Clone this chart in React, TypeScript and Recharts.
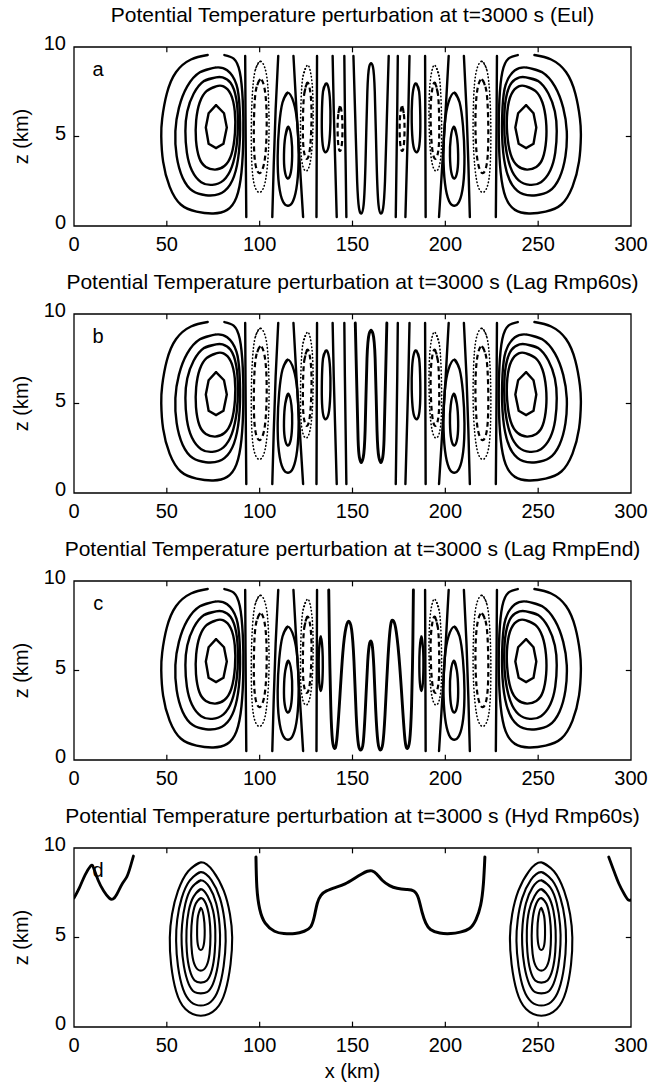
import React from 'react';
import { ComposedChart, Line, XAxis, YAxis, ReferenceArea, ReferenceLine, ReferenceDot } from 'recharts';

type Pt = [number, number];
type Style = 'solid' | 'dash' | 'dot';
interface Contour { pts: Pt[]; s?: Style; lin?: boolean; w?: number }

const FONT = '"Liberation Sans", Arial, Helvetica, sans-serif';

const xTicks = [0, 50, 100, 150, 200, 250, 300];
const zTicks = [0, 5, 10];
const titles = [
  'Potential Temperature perturbation at t=3000 s (Eul)',
  'Potential Temperature perturbation at t=3000 s (Lag Rmp60s)',
  'Potential Temperature perturbation at t=3000 s (Lag RmpEnd)',
  'Potential Temperature perturbation at t=3000 s (Hyd Rmp60s)',
];
const letters = ['a', 'b', 'c', 'd'];
const panelTops = [47, 314, 581, 848];
const BOX_H = 179;
const TOP_PAD = 22;

// left warm bubble (panels a-c) in (x km, z km)
const vortexOuter: Pt[] = [[72, 9.55], [63, 9.3], [55, 8.6], [50, 7.4], [47.5, 6.0], [47, 5.0], [48, 3.6], [51.5, 2.2], [57.5, 1.2], [66, 0.8], [75, 0.7], [82.5, 0.9], [87.5, 1.6], [90.2, 3.0], [91.2, 5.0], [90.9, 7.0], [89.3, 8.6], [86, 9.35], [81, 9.55]];
const vortexRing1: Pt[] = [[76, 8.85], [68, 8.6], [61, 7.8], [56.5, 6.6], [54.6, 5.3], [55.3, 3.9], [58.5, 2.7], [64, 1.95], [71, 1.72], [78, 1.78], [84, 2.3], [87.8, 3.4], [89.4, 5.0], [89.2, 6.6], [87.5, 7.9], [82.5, 8.7], [76, 8.85], [68, 8.6]];
const vortexRing2: Pt[] = [[76.5, 8.3], [70, 8.1], [64.5, 7.4], [61, 6.4], [60, 5.3], [60.8, 4.1], [63.5, 3.1], [68.5, 2.45], [74.5, 2.3], [80.5, 2.55], [85, 3.3], [87.6, 4.5], [88.3, 5.8], [87.4, 7.1], [84.3, 8.0], [80, 8.3], [76.5, 8.3], [70, 8.1]];
const vortexRing3: Pt[] = [[76.5, 7.8], [71.5, 7.55], [67.7, 6.9], [65.8, 5.9], [65.7, 4.8], [67.5, 3.8], [71, 3.3], [76, 3.15], [81, 3.35], [84.8, 4.0], [86.7, 5.2], [86.6, 6.4], [84.5, 7.35], [80.5, 7.8], [76.5, 7.8], [71.5, 7.55]];
const vortexCore: Pt[] = [[76.5, 6.75], [72.5, 6.3], [71, 5.5], [72.5, 4.6], [76.5, 4.35], [80.5, 4.6], [82.3, 5.5], [80.8, 6.3], [76.5, 6.75]];

// cells between the bubbles, left half
const line1: Pt[] = [[92.8, 0.5], [92.6, 3], [92.4, 6], [92.2, 9.5]];
const dot1: Pt[] = [[100.3, 9.2], [97.6, 8.7], [96.1, 7.4], [95.5, 5.6], [95.7, 3.7], [96.9, 2.4], [99.5, 1.88], [102.3, 2.2], [104.1, 3.3], [105, 5.0], [104.8, 7.0], [103.4, 8.6], [100.3, 9.2], [97.6, 8.7]];
const dash1: Pt[] = [[100.3, 8.2], [98, 7.6], [97, 6.2], [96.9, 4.6], [97.8, 3.4], [100, 2.95], [102.4, 3.5], [103.6, 4.8], [103.7, 6.4], [102.6, 7.7], [100.3, 8.2], [98, 7.6]];
const line2: Pt[] = [[106.8, 0.5], [107.6, 3.5], [108.6, 6.5], [110, 9.5]];
const ell1: Pt[] = [[115, 7.45], [112.3, 6.9], [110.5, 5.6], [109.7, 3.9], [110.4, 2.3], [112.6, 1.35], [115.3, 1.13], [118, 1.4], [120.2, 2.4], [121, 4.0], [120.3, 5.7], [118.3, 6.9], [115, 7.45], [112.3, 6.9]];
const ell2: Pt[] = [[115.4, 5.55], [113.8, 5.0], [113.1, 4.0], [113.5, 3.1], [115.1, 2.65], [116.8, 3.0], [117.5, 3.9], [117.1, 4.9], [115.4, 5.55], [113.8, 5.0]];
const line3: Pt[] = [[118.2, 9.5], [119.8, 6.5], [121.6, 3.5], [123.4, 0.5]];
const dot2: Pt[] = [[125.4, 8.95], [123.2, 8.3], [122.2, 6.7], [122, 5.0], [122.6, 3.7], [124.4, 3.1], [126.6, 3.3], [128.2, 4.4], [128.8, 6.2], [128.3, 7.9], [126.9, 8.8], [125.4, 8.95], [123.2, 8.3]];
const dash2: Pt[] = [[125.6, 8.0], [123.9, 7.3], [123.3, 5.8], [123.5, 4.5], [124.8, 3.8], [126.6, 4.0], [127.7, 5.2], [127.9, 6.6], [127.1, 7.6], [125.6, 8.0], [123.9, 7.3]];
const line4: Pt[] = [[130.6, 0.5], [130.7, 3.5], [130.8, 6.5], [130.9, 9.5]];
const ell3: Pt[] = [[135.6, 7.95], [134.1, 7.5], [133.5, 6.2], [133.6, 5.0], [134.5, 4.25], [136.0, 4.15], [137.4, 4.6], [138.1, 5.8], [137.9, 7.0], [137.0, 7.75], [135.6, 7.95], [134.1, 7.5]];
const ell3c: Pt[] = [[132.9, 6.9], [132.0, 6.2], [131.8, 5.2], [132.1, 4.3], [132.9, 3.85], [133.7, 4.3], [134.0, 5.2], [133.8, 6.2], [132.9, 6.9], [132.0, 6.2]];
const line5: Pt[] = [[139.3, 9.5], [139.9, 6.5], [140.7, 3.5], [141.5, 0.5]];
const dash3: Pt[] = [[143.2, 6.7], [142.2, 6.1], [142, 5.2], [142.5, 4.4], [143.4, 4.2], [144.3, 4.6], [144.6, 5.5], [144.2, 6.3], [143.2, 6.7], [142.2, 6.1]];
const line6: Pt[] = [[145.6, 9.5], [145.9, 6.5], [146.3, 3.5], [146.7, 0.5]];

// central wavy contours
const serpA: Pt[] = [[150.5, 9.5], [151.5, 6], [152.5, 2.5], [153.5, 1.0], [154.7, 0.7], [156, 1.2], [157, 3.5], [158, 7.5], [159, 8.9], [160, 9.1], [161, 8.9], [162, 7.5], [163, 3.5], [164, 1.2], [165.3, 0.7], [166.5, 1.0], [167.5, 2.5], [168.5, 6], [169.5, 9.5]];
const serpB: Pt[] = [[151.5, 9.5], [152.3, 6], [153, 3], [153.7, 2.0], [154.7, 1.7], [155.8, 2.0], [156.8, 3.5], [157.8, 7.5], [159, 8.9], [160, 9.1], [161, 8.9], [162.2, 7.5], [163.2, 3.5], [164.2, 2.0], [165.3, 1.7], [166.3, 2.0], [167, 3], [167.7, 6], [168.5, 9.5]];
const serpC: Pt[] = [[137.2, 9.5], [137.6, 6.5], [138.3, 3.0], [139.2, 1.1], [140.3, 0.65], [141.5, 1.1], [143, 3.2], [144.8, 6.0], [146.5, 7.4], [148, 7.75], [149.5, 7.3], [150.8, 5.5], [152, 2.5], [153.2, 0.85], [154.5, 0.55], [155.8, 1.0], [157, 3.0], [158.2, 5.5], [159.3, 6.55], [160.5, 6.5], [161.5, 5.2], [162.5, 2.8], [163.7, 1.0], [165, 0.55], [166.3, 0.9], [167.5, 2.5], [169, 5.5], [170.5, 7.5], [171.8, 7.8], [173.2, 7.4], [175, 5.8], [176.8, 3.2], [178.3, 1.1], [179.6, 0.65], [180.8, 1.1], [181.8, 3.0], [182.5, 6.5], [182.8, 9.5]];

// panel d (hydrostatic)
const hydRing1: Pt[] = [[68.3, 9.2], [61.5, 8.7], [56, 7.6], [52.8, 6.3], [51.6, 5.0], [52.3, 3.5], [55, 2.0], [60, 1.0], [68.3, 0.63], [76.5, 1.0], [81.5, 2.0], [84.3, 3.5], [85.2, 5.0], [84, 6.3], [80.7, 7.6], [75, 8.7], [68.3, 9.2], [61.5, 8.7]];
const hydRing2: Pt[] = [[68.3, 8.65], [62.5, 8.2], [58, 7.2], [55.6, 6.0], [55, 4.8], [56, 3.4], [58.8, 2.1], [63, 1.4], [68.3, 1.2], [73.6, 1.4], [77.8, 2.1], [80.6, 3.4], [81.7, 4.8], [81, 6.0], [78.6, 7.2], [74, 8.2], [68.3, 8.65], [62.5, 8.2]];
const hydRing3: Pt[] = [[68.3, 8.2], [63.5, 7.8], [60, 6.9], [58.2, 5.7], [58, 4.6], [59.2, 3.4], [61.8, 2.4], [65, 1.95], [68.3, 1.88], [71.6, 1.95], [74.8, 2.4], [77.4, 3.4], [78.6, 4.6], [78.4, 5.7], [76.6, 6.9], [73, 7.8], [68.3, 8.2], [63.5, 7.8]];
const hydRing4: Pt[] = [[68.3, 7.7], [64.5, 7.3], [61.8, 6.5], [60.6, 5.4], [60.8, 4.2], [62.3, 3.2], [65, 2.6], [68.3, 2.48], [71.6, 2.6], [74.3, 3.2], [75.8, 4.2], [76.1, 5.4], [74.9, 6.5], [72, 7.3], [68.3, 7.7], [64.5, 7.3]];
const hydRing5: Pt[] = [[68.3, 7.2], [65.6, 6.9], [63.7, 6.1], [63.1, 5.1], [63.6, 4.1], [65.3, 3.4], [68.3, 3.15], [71.3, 3.4], [73, 4.1], [73.5, 5.1], [72.9, 6.1], [71, 6.9], [68.3, 7.2], [65.6, 6.9]];
const hydRing6: Pt[] = [[68.3, 6.65], [66.8, 6.2], [66.3, 5.4], [66.7, 4.6], [68.3, 4.3], [69.9, 4.6], [70.4, 5.4], [69.8, 6.2], [68.3, 6.65], [66.8, 6.2]];
const hydLeftEdge: Pt[] = [[0, 7.2], [3, 7.8], [6, 8.5], [9, 9.0], [10.5, 8.9], [13, 8.2], [16, 7.6], [19, 7.2], [21, 7.15], [23, 7.4], [26, 8.0], [28.5, 8.4], [30.5, 9.0], [32, 9.55]];
const hydRightEdge: Pt[] = [[288, 9.5], [290.5, 8.8], [293.5, 8.0], [296.5, 7.4], [298.5, 7.1], [300, 7.1]];
const hydMiddle: Pt[] = [[98, 9.5], [98.5, 7.8], [100, 6.6], [103, 5.8], [108, 5.35], [113, 5.22], [119, 5.22], [124, 5.35], [127.5, 5.6], [129.5, 6.2], [131, 6.9], [133, 7.35], [136, 7.6], [141, 7.8], [146, 8.0], [151, 8.3], [155, 8.55], [158, 8.7], [160.5, 8.72], [163, 8.55], [166, 8.2], [170, 7.9], [174, 7.75], [179, 7.68], [183, 7.6], [185.5, 7.2], [187.5, 6.4], [189.5, 5.8], [192, 5.45], [197, 5.25], [203, 5.22], [208, 5.3], [213, 5.5], [216.5, 6.0], [219, 6.8], [220.5, 8.0], [221.3, 9.5]];

// the fields are mirror-symmetric about x = 160 km
const mirror = (pts: Pt[]): Pt[] => pts.map(([x, z]) => [320 - x, z] as Pt);
const both = (list: Contour[]): Contour[] => [...list, ...list.map((c) => ({ ...c, pts: mirror(c.pts) }))];

const bubble: Contour[] = [
  { pts: vortexOuter }, { pts: vortexRing1 }, { pts: vortexRing2 }, { pts: vortexRing3 }, { pts: vortexCore, lin: true },
];
const cellsAB: Contour[] = [
  { pts: line1 }, { pts: dot1, s: 'dot' }, { pts: dash1, s: 'dash' }, { pts: line2 }, { pts: ell1 }, { pts: ell2 },
  { pts: line3 }, { pts: dot2, s: 'dot' }, { pts: dash2, s: 'dash' }, { pts: line4 }, { pts: ell3 },
  { pts: line5 }, { pts: line6 },
];
const cellsC: Contour[] = [
  { pts: line1 }, { pts: dot1, s: 'dot' }, { pts: dash1, s: 'dash' }, { pts: line2 }, { pts: ell1 }, { pts: ell2 },
  { pts: line3 }, { pts: dot2, s: 'dot' }, { pts: dash2, s: 'dash' }, { pts: line4 }, { pts: ell3c },
];

const panelContours: Contour[][] = [
  [...both([...bubble, ...cellsAB, { pts: dash3, s: 'dash' }]), { pts: serpA }],
  [...both([...bubble, ...cellsAB]), { pts: serpB, w: 2.9 }],
  [...both([...bubble, ...cellsC]), { pts: serpC, w: 2.9 }],
  [
    ...both([hydRing1, hydRing2, hydRing3, hydRing4, hydRing5, hydRing6].map((pts) => ({ pts, w: 2.1 }))),
    { pts: hydLeftEdge, w: 2.8 }, { pts: hydRightEdge, w: 2.8 }, { pts: hydMiddle, w: 3 },
  ],
];

const XTick = (p: any) => (
  <text x={p.x} y={p.y} textAnchor="middle" dominantBaseline="central" fontSize={20} fontFamily={FONT} fill="#000">
    {p.payload.value}
  </text>
);
const YTick = (p: any) => (
  <text x={p.x} y={p.y - 4} textAnchor="end" dominantBaseline="central" fontSize={20} fontFamily={FONT} fill="#000">
    {p.payload.value}
  </text>
);

function styleOf(c: Contour) {
  if (c.s === 'dot') return { strokeWidth: 1.6, strokeDasharray: '0.5 3', strokeLinecap: 'round' as const };
  if (c.s === 'dash') return { strokeWidth: 2.2, strokeDasharray: '5 3.5', strokeLinecap: 'butt' as const };
  return { strokeWidth: c.w ?? 2.4, strokeLinecap: 'round' as const };
}

function Panel({ idx }: { idx: number }) {
  const top = panelTops[idx];
  return (
    <>
      <div style={{ position: 'absolute', left: 26.5, top: top - 32 - 12, width: 652, textAlign: 'center', fontSize: 21, lineHeight: '24px', fontFamily: FONT, whiteSpace: 'nowrap' }}>
        {titles[idx]}
      </div>
      <div style={{ position: 'absolute', left: 12, top: top + BOX_H / 2 - 40, width: 20, height: 80, display: 'flex', alignItems: 'center', justifyContent: 'center' }}>
        <div style={{ transform: 'rotate(-90deg)', fontSize: 20, fontFamily: FONT, whiteSpace: 'nowrap' }}>z (km)</div>
      </div>
      <div style={{ position: 'absolute', left: 0, top: top - TOP_PAD }}>
        <ComposedChart width={652} height={BOX_H + TOP_PAD + 40} margin={{ top: TOP_PAD, right: 21, bottom: 0, left: 0 }}>
          <XAxis type="number" dataKey="x" domain={[0, 300]} ticks={xTicks} interval={0} tick={XTick} tickLine={false} axisLine={false} height={40} tickSize={0} tickMargin={18} allowDataOverflow />
          <YAxis type="number" dataKey="z" domain={[0, 10]} ticks={zTicks} interval={0} tick={YTick} tickLine={false} axisLine={false} width={74} tickSize={0} tickMargin={8} allowDataOverflow />
          {panelContours[idx].map((c, i) => (
            <Line
              key={i}
              data={c.pts.map(([x, z]) => ({ x, z }))}
              dataKey="z"
              type={c.lin ? 'linear' : 'natural'}
              stroke="#000"
              fill="none"
              {...styleOf(c)}
              dot={false}
              activeDot={false}
              isAnimationActive={false}
              legendType="none"
            />
          ))}
          {xTicks.slice(1, -1).map((v) => (
            <ReferenceLine key={'b' + v} segment={[{ x: v, y: 0 }, { x: v, y: 0.3 }]} stroke="#000" strokeWidth={1.2} />
          ))}
          {xTicks.slice(1, -1).map((v) => (
            <ReferenceLine key={'t' + v} segment={[{ x: v, y: 9.7 }, { x: v, y: 10 }]} stroke="#000" strokeWidth={1.2} />
          ))}
          <ReferenceLine segment={[{ x: 0, y: 5 }, { x: 2.8, y: 5 }]} stroke="#000" strokeWidth={1.2} />
          <ReferenceLine segment={[{ x: 297.2, y: 5 }, { x: 300, y: 5 }]} stroke="#000" strokeWidth={1.2} />
          <ReferenceDot x={13} y={8.8} r={0} fill="none" stroke="none" label={{ value: letters[idx], position: 'center', fontSize: 20, fontFamily: FONT, fill: '#000' }} />
          <ReferenceArea x1={0} x2={300} y1={0} y2={10} fill="none" stroke="#000" strokeWidth={1.3} ifOverflow="visible" />
        </ComposedChart>
      </div>
    </>
  );
}

export default function App() {
  return (
    <div style={{ position: 'absolute', left: 0, top: 0, width: 652, height: 1092, background: '#fff', overflow: 'hidden' }}>
      {[0, 1, 2, 3].map((i) => (
        <Panel key={i} idx={i} />
      ))}
      <div style={{ position: 'absolute', left: 26.5, top: panelTops[3] + BOX_H + 32, width: 652, textAlign: 'center', fontSize: 20, lineHeight: '24px', fontFamily: FONT }}>
        x (km)
      </div>
    </div>
  );
}
